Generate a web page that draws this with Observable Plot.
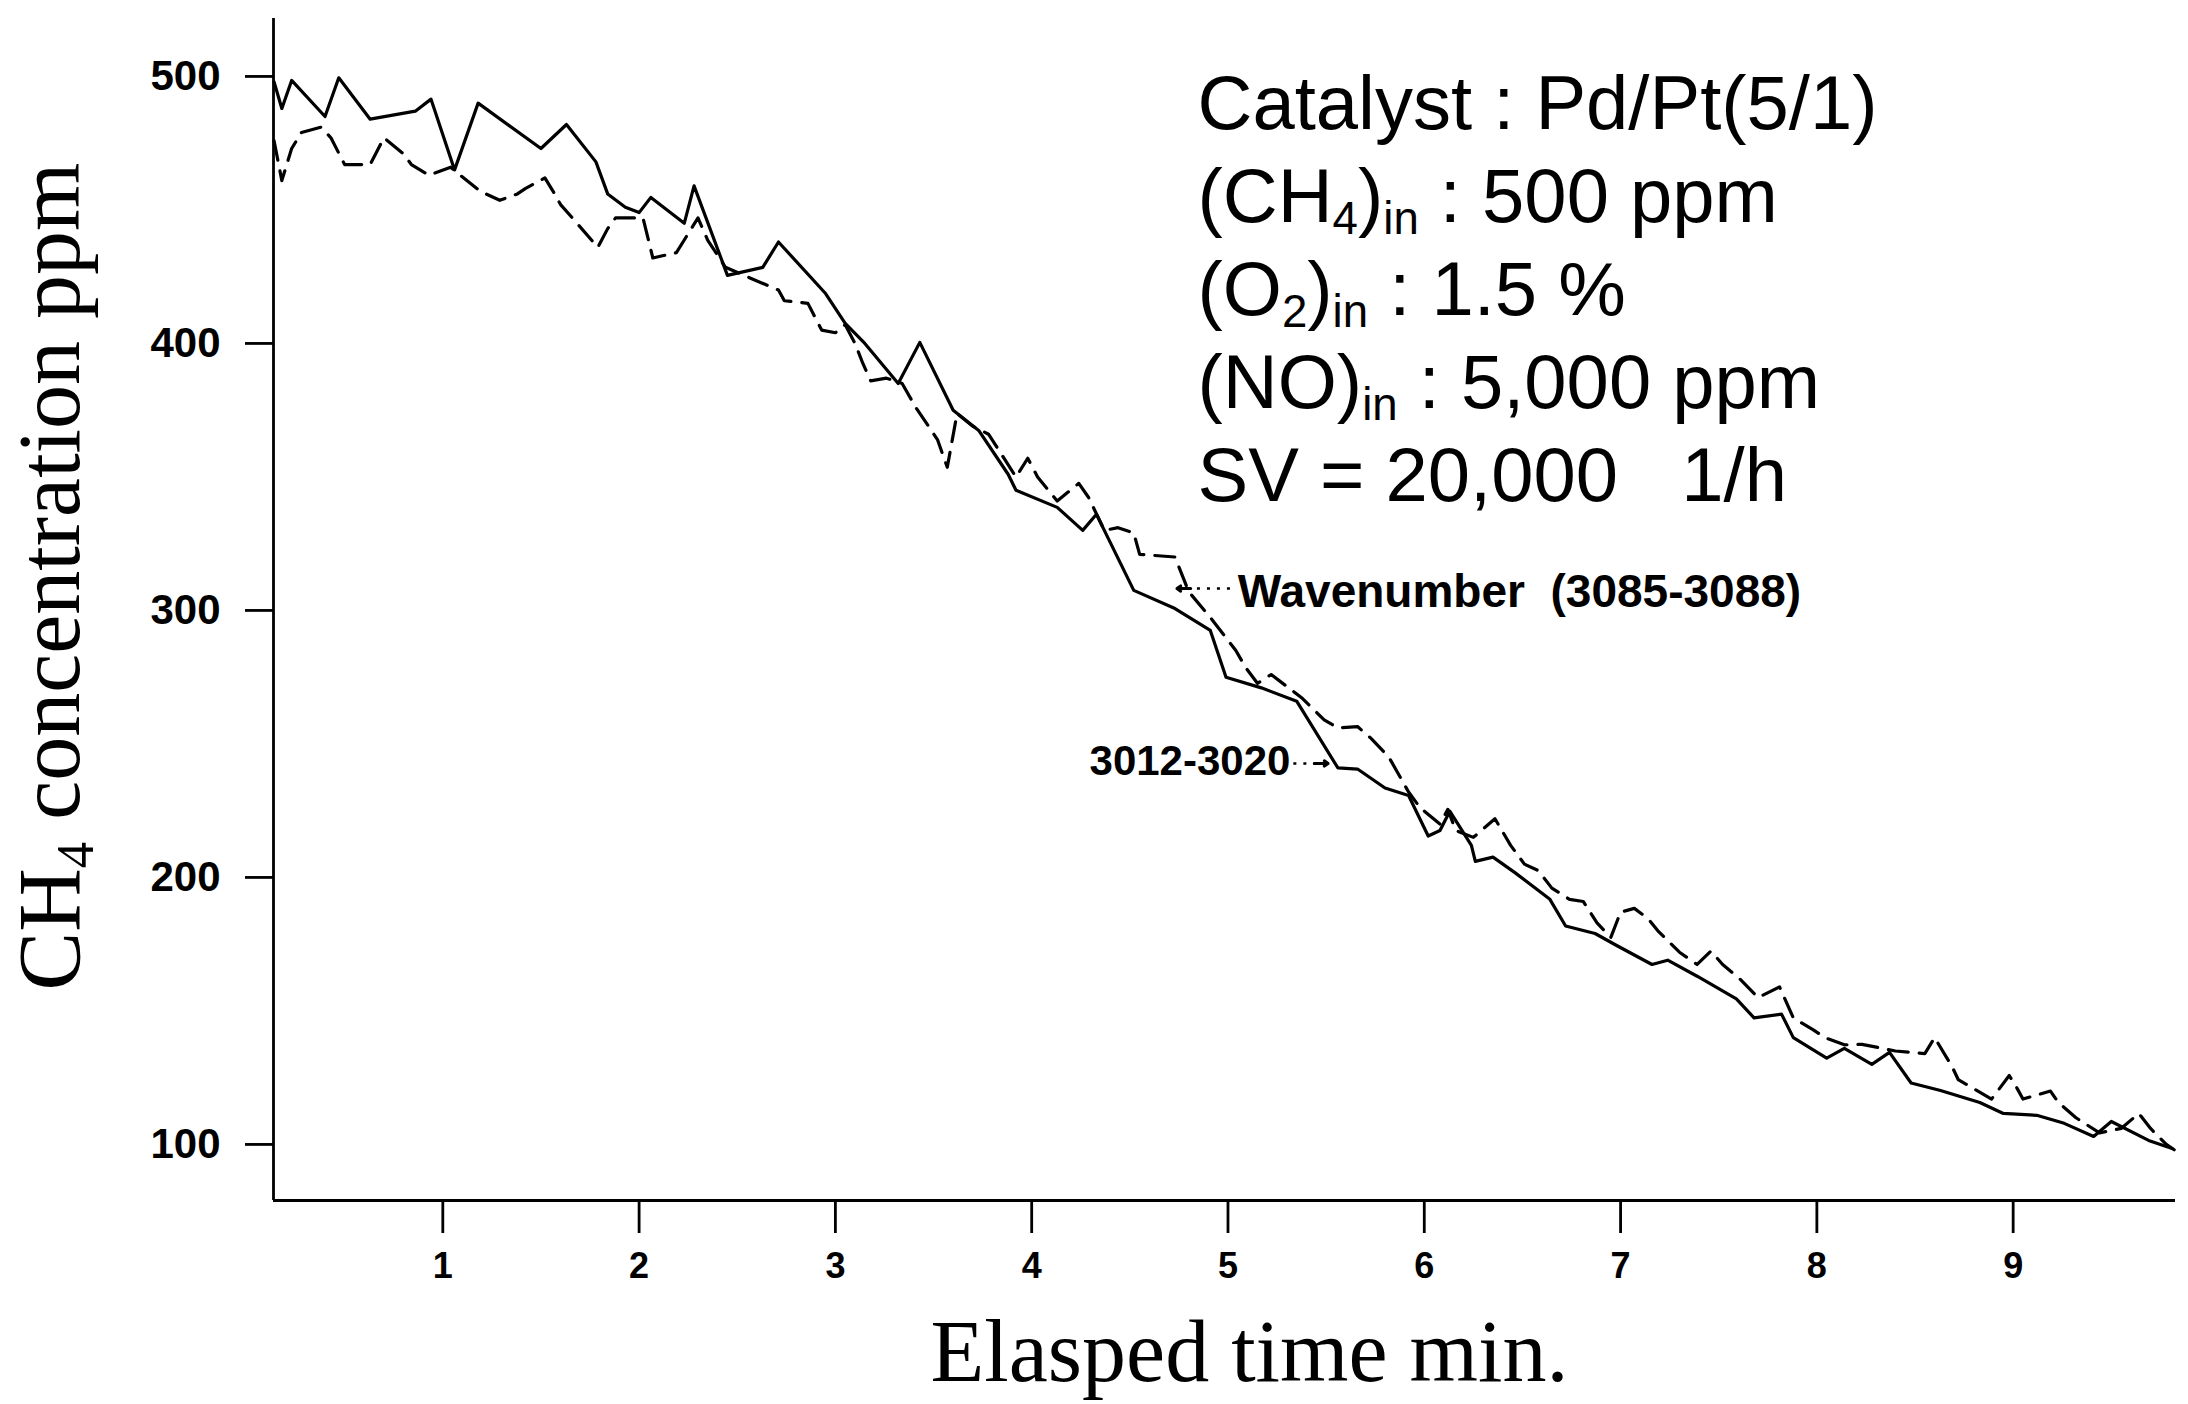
<!DOCTYPE html>
<html><head><meta charset="utf-8">
<script src="https://cdn.jsdelivr.net/npm/d3@7"></script>
<script src="https://cdn.jsdelivr.net/npm/@observablehq/plot@0.6"></script>
<style>
html,body{margin:0;padding:0;background:#fff;}
#chart svg{display:block;}
</style></head><body><div id="chart"></div>
<script>
// Solid line: 3012-3020
const solidX = [0.14,0.18,0.23,0.40,0.47,0.63,0.86,0.94,1.06,1.18,1.50,1.63,1.78,1.84,1.93,2.00,2.06,2.23,2.28,2.45,2.63,2.71,2.95,3.05,3.15,3.32,3.43,3.60,3.73,3.88,3.92,4.13,4.26,4.33,4.39,4.52,4.73,4.91,4.99,5.17,5.35,5.56,5.66,5.80,5.92,6.02,6.08,6.13,6.24,6.26,6.35,6.46,6.64,6.72,6.87,6.98,7.16,7.24,7.39,7.59,7.68,7.82,7.88,8.05,8.14,8.28,8.37,8.48,8.63,8.83,8.95,9.12,9.26,9.41,9.50,9.69,9.81];
const solidY = [498,488,498.5,485,499.5,484,487,491.5,465,490,473,482,468,456,451,449,454.7,445,459,425.5,428.5,438,418.7,407.5,400,385,400.4,375,367.4,351,345,338.6,330,336,327,307.5,300.7,292.5,275,271,266,241,240.6,233.5,230.7,215.5,217.6,224.8,212,206,207.6,201.9,191.8,181.8,179,174.5,167.4,169,163,154.5,147.4,148.8,140,132.3,136,130,134.5,123,120.2,115.7,111.6,110.9,107.9,103,108.6,101.5,98.5];
// Dashed line: Wavenumber 3085-3088
const dashedX = [0.14,0.18,0.23,0.28,0.38,0.43,0.50,0.63,0.70,0.80,0.84,0.93,1.04,1.08,1.19,1.29,1.38,1.42,1.52,1.57,1.60,1.66,1.79,1.84,1.88,2.02,2.07,2.19,2.30,2.35,2.44,2.55,2.71,2.74,2.86,2.93,3.00,3.05,3.10,3.14,3.18,3.26,3.34,3.41,3.52,3.57,3.62,3.70,3.78,3.92,3.98,4.03,4.13,4.24,4.29,4.37,4.44,4.52,4.55,4.73,4.80,4.91,5.04,5.09,5.15,5.22,5.38,5.49,5.56,5.66,5.73,5.82,5.92,5.98,6.08,6.12,6.16,6.25,6.36,6.44,6.51,6.58,6.65,6.74,6.81,6.88,6.95,7.00,7.07,7.14,7.19,7.30,7.39,7.46,7.52,7.61,7.70,7.81,7.88,7.98,8.04,8.14,8.23,8.40,8.55,8.60,8.69,8.72,8.89,8.98,9.02,9.05,9.19,9.23,9.32,9.44,9.55,9.64,9.70,9.78,9.82];
const dashedY = [476,461,473,479,481,477,467,467,477,471,467,463,466,463.5,457,453.6,456,458,462,456,452,447,436,443,447,447,432,434,447,438.6,428.5,425,420,416,415,405,404,407,400,392.5,386,387,385,376,364,353.6,373.8,369,366,350,357,350,341,347.6,342.3,330,331,329,321,320,307,297.4,285,278.6,272.7,276,267,259,256,256.5,252,245,232,226,220,225.5,217.6,215,222,212,205,202.6,196,191.8,191,183,177.5,187,188.4,184.6,180,172,167.4,172.4,167.4,161.8,155,159,147.4,143,140,137.3,137.5,135,134,140,129,124.3,117,125.8,121,117,120,115.7,110,104.3,106,111.6,106,100,98];

const xTicks = [1,2,3,4,5,6,7,8,9];
const yTicks = [100,200,300,400,500];
const xDomain = [0.1375, 9.827];
const yDomain = [79, 521.7];

const xTitle = "Elasped time min.";
const yTitle = "CH₄ concentration ppm";
const annoLines = ["Catalyst : Pd/Pt(5/1)", "(CH₄)ᵢₙ : 500 ppm", "(O₂)ᵢₙ : 1.5 %", "(NO)ᵢₙ : 5,000 ppm", "SV = 20,000   1/h"];

const leftNotes = [{x: 5.05, y: 301.1, text: "Wavenumber  (3085-3088)"}];
const rightNotes = [{x: 5.318, y: 238.2, text: "3012-3020"}];
const arrowNotes = [{x1: 5.01, y1: 308.2, x2: 4.74, y2: 308.2}, {x1: 5.333, y1: 242.7, x2: 5.51, y2: 242.7}];

const solid = solidX.map((x, i) => ({x, y: solidY[i]}));
const dashed = dashedX.map((x, i) => ({x, y: dashedY[i]}));

const sans = "'Liberation Sans',Arial,sans-serif";
const serif = "'Liberation Serif','Times New Roman',serif";

const marks = [
  Plot.ruleX([xDomain[0]], {stroke: "#000", strokeWidth: 2.8}),
  Plot.ruleY([yDomain[0]], {stroke: "#000", strokeWidth: 2.8}),
  Plot.axisX(xTicks, {tickSize: 33, tickPadding: 19, strokeWidth: 2.8, fontSize: 36, fontWeight: "bold", fontFamily: sans, tickFormat: d3.format("d"), label: null}),
  Plot.axisY(yTicks, {tickSize: 28, tickPadding: 25, strokeWidth: 2.8, fontSize: 42, fontWeight: "bold", fontFamily: sans, tickFormat: d3.format("d"), label: null}),
  Plot.line(dashed, {x: "x", y: "y", stroke: "#000", strokeWidth: 3.2, strokeDasharray: "20,11"}),
  Plot.line(solid, {x: "x", y: "y", stroke: "#000", strokeWidth: 3.2}),
  Plot.link(arrowNotes, {x1: "x1", y1: "y1", x2: "x2", y2: "y2", stroke: "#000", strokeWidth: 2.5, strokeDasharray: "3,7"}),
  Plot.arrow(arrowNotes, {x1: d => d.x2 - Math.sign(d.x2 - d.x1) * 0.07, y1: "y2", x2: "x2", y2: "y2", stroke: "#000", strokeWidth: 3, headLength: 14, headAngle: 70}),
  Plot.text(leftNotes, {x: "x", y: "y", text: "text", textAnchor: "start", lineAnchor: "bottom", fontSize: 46, fontWeight: "bold", fontFamily: sans, fill: "#000"}),
  Plot.text(rightNotes, {x: "x", y: "y", text: "text", textAnchor: "end", lineAnchor: "bottom", fontSize: 42, fontWeight: "bold", fontFamily: sans, fill: "#000"}),
  Plot.text([yTitle], {text: d => d, frameAnchor: "left", dx: -195, dy: -33, rotate: -90, textAnchor: "middle", lineAnchor: "bottom", fontSize: 88, fontFamily: serif, fill: "#000"}),
  Plot.text([xTitle], {text: d => d, frameAnchor: "bottom", dx: 25, dy: 180, textAnchor: "middle", lineAnchor: "bottom", fontSize: 88, fontFamily: serif, fill: "#000"}),
  ...annoLines.map((t, i) => Plot.text([t], {text: d => d, frameAnchor: "top-left", dx: 924, dy: 110 + 93 * i, textAnchor: "start", lineAnchor: "bottom", fontSize: 76, fontFamily: sans, fill: "#000"}))
];

const chart = Plot.plot({
  width: 2188, height: 1404,
  marginLeft: 273, marginRight: 13, marginTop: 18, marginBottom: 204,
  x: {domain: xDomain, axis: null},
  y: {domain: yDomain, axis: null},
  style: {background: "#fff", color: "#000", fontFamily: sans},
  marks
});
document.getElementById("chart").appendChild(chart);

// render subscript characters as smaller, lowered tspans
const SUB = {"₀":"0","₁":"1","₂":"2","₃":"3","₄":"4","₅":"5","₆":"6","₇":"7","₈":"8","₉":"9","ᵢ":"i","ₙ":"n"};
chart.querySelectorAll("text").forEach(t => {
  const s = t.textContent;
  if (![...s].some(c => SUB[c]) || t.querySelector("tspan")) return;
  const fs = parseFloat(getComputedStyle(t).fontSize);
  const shift = fs * 0.16;
  const runs = [];
  for (const c of s) {
    const sub = !!SUB[c], ch = SUB[c] || c;
    if (runs.length && runs[runs.length - 1].sub === sub) runs[runs.length - 1].t += ch;
    else runs.push({sub, t: ch});
  }
  t.textContent = "";
  let shifted = false;
  for (const r of runs) {
    const ts = document.createElementNS("http://www.w3.org/2000/svg", "tspan");
    ts.textContent = r.t;
    if (r.sub) { ts.setAttribute("font-size", fs * 0.6); if (!shifted) { ts.setAttribute("dy", shift); shifted = true; } }
    else if (shifted) { ts.setAttribute("dy", -shift); shifted = false; }
    t.appendChild(ts);
  }
});
</script>
</body></html>
